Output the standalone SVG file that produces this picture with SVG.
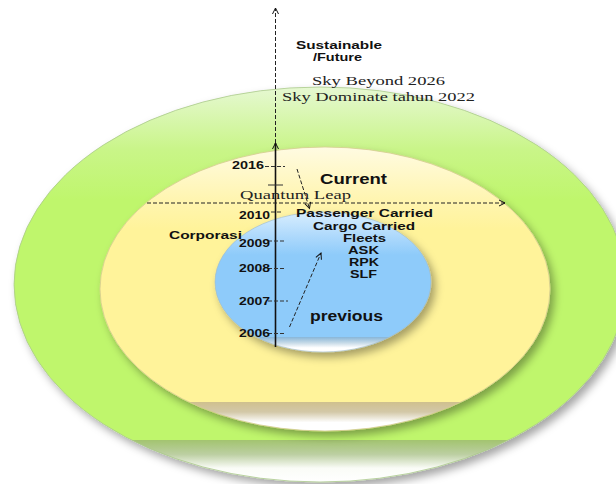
<svg xmlns="http://www.w3.org/2000/svg" width="616" height="484" viewBox="0 0 616 484">
  <defs>
    <style>
      .b { font-family: "Liberation Sans", Arial, sans-serif; font-weight: bold; fill: #111; }
      .s { font-family: "Liberation Serif", "Times New Roman", serif; fill: #222; }
      .yr { font-size: 10px; }
      .dash { fill: none; stroke: #222; stroke-width: 1; stroke-dasharray: 4 2; }
      .tick { fill: none; stroke: #333; stroke-width: 1; stroke-dasharray: 4 2; }
      .solid { fill: none; stroke: #111; stroke-width: 1.6; }
    </style>
    <marker id="open" viewBox="0 0 8 8" refX="7" refY="4" markerWidth="8" markerHeight="8" markerUnits="userSpaceOnUse" orient="auto">
      <path d="M1,1 L7,4 L1,7" fill="none" stroke="#111" stroke-width="1"/>
    </marker>
    <filter id="shadow" x="-10%" y="-10%" width="125%" height="130%">
      <feDropShadow dx="4" dy="5" stdDeviation="4" flood-color="#000" flood-opacity="0.35"/>
    </filter>
    <linearGradient id="gGreen" gradientUnits="userSpaceOnUse" x1="0" y1="87" x2="0" y2="482">
      <stop offset="0" stop-color="#e6f8d2"/>
      <stop offset="0.16" stop-color="#c9f588"/>
      <stop offset="0.286" stop-color="#bff66c"/>
      <stop offset="0.894" stop-color="#bff66c"/>
      <stop offset="0.894" stop-color="#a3c470"/>
      <stop offset="0.93" stop-color="#bccfa2"/>
      <stop offset="0.965" stop-color="#fafcf7"/>
      <stop offset="1" stop-color="#ffffff"/>
    </linearGradient>
    <linearGradient id="gYellow" gradientUnits="userSpaceOnUse" x1="0" y1="147" x2="0" y2="431">
      <stop offset="0" stop-color="#fffbe2"/>
      <stop offset="0.187" stop-color="#fff5b0"/>
      <stop offset="0.29" stop-color="#fff39a"/>
      <stop offset="0.898" stop-color="#fff39a"/>
      <stop offset="0.898" stop-color="#cfc08e"/>
      <stop offset="0.933" stop-color="#d3c8a8"/>
      <stop offset="0.97" stop-color="#ffffff"/>
      <stop offset="1" stop-color="#ffffff"/>
    </linearGradient>
    <linearGradient id="gBlue" gradientUnits="userSpaceOnUse" x1="0" y1="212" x2="0" y2="352">
      <stop offset="0" stop-color="#d8eefe"/>
      <stop offset="0.164" stop-color="#b0dafc"/>
      <stop offset="0.307" stop-color="#8ecbfa"/>
      <stop offset="0.893" stop-color="#8ecbfa"/>
      <stop offset="0.893" stop-color="#88b6d8"/>
      <stop offset="0.936" stop-color="#c8dbe8"/>
      <stop offset="0.97" stop-color="#ffffff"/>
      <stop offset="1" stop-color="#ffffff"/>
    </linearGradient>
  </defs>

  <rect width="616" height="484" fill="#ffffff"/>

  <!-- outer ring: future -->
  <g id="ring-future">
    <ellipse cx="320" cy="284.5" rx="306" ry="197.5" fill="url(#gGreen)" stroke="#a9c98a" stroke-width="0.8" filter="url(#shadow)"/>
  </g>

  <!-- middle ring: current / corporate -->
  <g id="ring-current">
    <ellipse cx="325" cy="289" rx="225" ry="142" fill="url(#gYellow)" stroke="#d6cc90" stroke-width="0.8" filter="url(#shadow)"/>
  </g>

  <!-- inner ring: previous -->
  <g id="ring-previous">
    <ellipse cx="323" cy="282" rx="108" ry="70" fill="url(#gBlue)" stroke="#9cb8cc" stroke-width="0.6" filter="url(#shadow)"/>
  </g>

  <!-- axes and arrows -->
  <g id="connectors">
    <line class="dash" x1="275.5" y1="143" x2="275.5" y2="8" marker-end="url(#open)"/>
    <line class="solid" x1="275.5" y1="347" x2="275.5" y2="143" marker-end="url(#open)"/>
    <line class="dash" x1="147" y1="203" x2="505" y2="203" marker-end="url(#open)"/>
    <line class="dash" x1="297" y1="169" x2="309.5" y2="208.5" marker-end="url(#open)"/>
    <line class="dash" x1="289.5" y1="327" x2="321" y2="253" stroke-dasharray="5 1.5" marker-end="url(#open)"/>
    <!-- year ticks -->
    <line class="tick" x1="265" y1="166.5" x2="285" y2="166.5"/>
    <line x1="268" y1="185" x2="283" y2="185" stroke="#333" stroke-width="1"/>
    <line class="tick" x1="271" y1="212" x2="283" y2="212" stroke-dasharray="2 2"/>
    <line class="tick" x1="268" y1="241" x2="285" y2="241"/>
    <line class="tick" x1="268" y1="268.5" x2="285" y2="268.5"/>
    <line class="tick" x1="268" y1="301" x2="288" y2="301"/>
    <line class="tick" x1="268" y1="333.5" x2="285" y2="333.5"/>
  </g>

  <g id="label-future">
    <text class="b" x="296" y="49" font-size="10" textLength="86" lengthAdjust="spacingAndGlyphs">Sustainable</text>
    <text class="b" x="313" y="61" font-size="10" textLength="49" lengthAdjust="spacingAndGlyphs">/Future</text>
    <text class="s" x="312" y="85" font-size="13.5" textLength="133" lengthAdjust="spacingAndGlyphs">Sky Beyond 2026</text>
    <text class="s" x="282" y="100.5" font-size="13.5" textLength="193" lengthAdjust="spacingAndGlyphs">Sky Dominate tahun 2022</text>
  </g>

  <g id="label-current">
    <text class="b" x="320" y="183.5" font-size="14" textLength="67" lengthAdjust="spacingAndGlyphs">Current</text>
    <text class="s" x="240" y="199" font-size="13.5" textLength="111" lengthAdjust="spacingAndGlyphs">Quantum Leap</text>
    <text class="b" x="169" y="238.5" font-size="10" textLength="73" lengthAdjust="spacingAndGlyphs">Corporasi</text>
  </g>

  <g id="label-metrics">
    <text class="b" x="296" y="217" font-size="10.5" textLength="137" lengthAdjust="spacingAndGlyphs">Passenger Carried</text>
    <text class="b" x="313" y="230" font-size="10.5" textLength="102" lengthAdjust="spacingAndGlyphs">Cargo Carried</text>
    <text class="b" x="343" y="242" font-size="10.5" textLength="43" lengthAdjust="spacingAndGlyphs">Fleets</text>
    <text class="b" x="348" y="253.5" font-size="10.5" textLength="31" lengthAdjust="spacingAndGlyphs">ASK</text>
    <text class="b" x="349" y="265.5" font-size="10.5" textLength="30" lengthAdjust="spacingAndGlyphs">RPK</text>
    <text class="b" x="350" y="277.5" font-size="10.5" textLength="27" lengthAdjust="spacingAndGlyphs">SLF</text>
  </g>

  <g id="label-previous">
    <text class="b" x="310" y="321" font-size="14" textLength="73" lengthAdjust="spacingAndGlyphs">previous</text>
  </g>

  <g id="years">
    <text class="b yr" x="232" y="169" textLength="32" lengthAdjust="spacingAndGlyphs">2016</text>
    <text class="b yr" x="239" y="219" textLength="31" lengthAdjust="spacingAndGlyphs">2010</text>
    <text class="b yr" x="239" y="247" textLength="31" lengthAdjust="spacingAndGlyphs">2009</text>
    <text class="b yr" x="239" y="272" textLength="31" lengthAdjust="spacingAndGlyphs">2008</text>
    <text class="b yr" x="239" y="304.5" textLength="31" lengthAdjust="spacingAndGlyphs">2007</text>
    <text class="b yr" x="239" y="337" textLength="31" lengthAdjust="spacingAndGlyphs">2006</text>
  </g>
</svg>
